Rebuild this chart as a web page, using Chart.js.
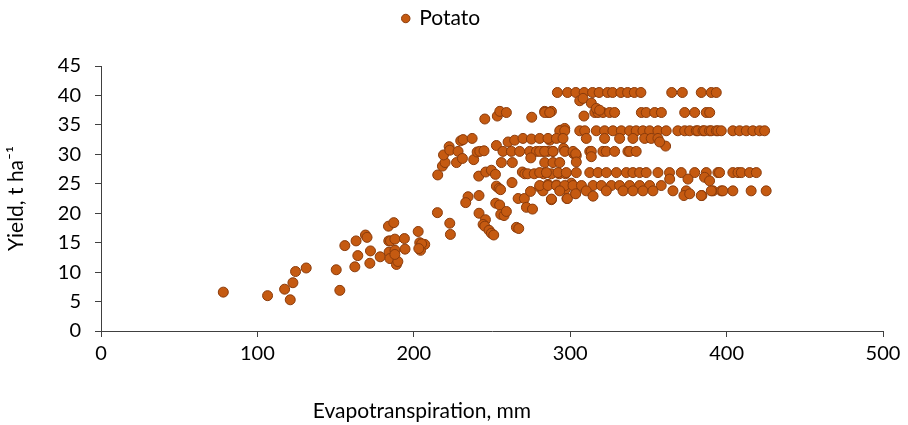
<!DOCTYPE html>
<html>
<head>
<meta charset="utf-8">
<script src="https://cdn.jsdelivr.net/npm/chart.js@4/dist/chart.umd.min.js"></script>
<style>
  body { margin: 0; background: #fff; }
  #wrap { width: 908px; height: 425px; }
</style>
</head>
<body>
<div id="wrap"><canvas id="potatoChart"></canvas></div>
<script>
// Potato yield vs evapotranspiration

const seriesName = 'Potato';
const xTitle = 'Evapotranspiration, mm';
const yTitle = 'Yield, t ha\u207B\u00B9';

// evapotranspiration, mm
const etValues = [
  78.2, 106.5, 121, 117.4, 122.7, 124.4, 131.2, 150.4, 152.7, 155.9,
  163.1, 164.2, 162.3, 169.1, 170.1, 172.3, 171.9, 178.5, 183.8, 187.2,
  184, 185.1, 187.9, 184.2, 188, 184.7, 188.9, 189.8, 187.9, 194,
  194.4, 202.8, 203.8, 207, 204.3, 205, 203.2, 215.3, 215.1, 223,
  223.4, 218.3, 220, 227.3, 234.7, 233.2, 241.7, 241.5, 246, 249.6,
  252.2, 241.7, 245.8, 244.3, 245.4, 248.1, 249.6, 251.1, 252.8, 254.5,
  255.5, 252.4, 254.9, 255.6, 257.7, 259.2, 256, 263, 262.8, 265.6,
  267.1, 266.7, 270.7, 272, 275.9, 269.4, 271, 274.6, 280.5, 285.8,
  282.6, 288, 291.2, 296.9, 297.9, 300.7, 303.5, 219, 222.6, 223,
  228.3, 231.1, 230, 231.5, 237.3, 238.3, 240.5, 242.2, 244.9, 245.4,
  253.4, 255, 259.2, 252.8, 260.3, 264.5, 269.8, 275.2, 257, 262.4,
  267.7, 274.1, 278.4, 282.6, 285.8, 289, 274.8, 275.4, 283.7, 285.8,
  288, 293.9, 296.5, 286.9, 295.8, 302.2, 303.9, 283.7, 289, 293.3,
  272.8, 277, 283, 288, 293, 297,
  // 40.5 row
  291.8, 298.3, 303.6, 308.9, 314.3, 318.5, 323.9, 327.1, 332.4, 336.7,
  341, 345.2, 364.9, 371.7, 383.8, 390.2, 393.4, 306.1, 308.2, 313.5,
  // 37 row
  308.8, 283.7, 286.9, 315.7, 317.8, 321, 325.2, 328.4, 345.5, 348.6,
  354, 358.3, 373.2, 379.6, 387, 389.2, 316.7, 318.8,
  // 34 row
  293.3, 296.5, 306.1, 309.3, 316.7, 322, 327.3, 332.7, 338, 342.2,
  346.5, 350.8, 356.1, 361.4, 368.8, 373.2, 376.4, 380.6, 381.6, 384.9,
  385.9, 389.1, 390.2, 393.4, 394.4, 396.6, 404, 408.3, 412.6, 416.8,
  421.1, 424.3,
  // 32.5 row
  280.5, 285.8, 291.2, 295.4, 310.3, 322, 331.6, 340.1, 347.6, 351.8,
  356.1, 361, 357.2,
  // 30.5 row
  280.5, 283.7, 289, 296.5, 301.8, 312.5, 313.5, 320.9, 323.1, 328.4,
  336.9, 338, 342.2, 313.5, 303.5, 303.9,
  // 27 row
  280.5, 284.8, 292.2, 297.5, 303.9, 312.5, 317.8, 323.1, 329.5, 335.9,
  340.1, 344.4, 348.6, 356.1, 363.5, 371, 379.6, 387, 363.6, 375.3,
  394.4, 395.5, 404, 407.3, 409.4, 414.7, 419, 385.9, 389.1,
  // 24.5 row
  280.5, 285.8, 291.2, 296.5, 301.8, 307.2, 314.6, 319.9, 326.3, 331.6,
  338, 344.4, 350.8, 358.2,
  // 23.8 row
  293.3, 310.3, 323.1, 333.8, 340.1, 346.5, 352.9, 365.7, 374.2, 391.3,
  288, 298.2, 303.5, 314.6, 372.7, 384.2, 390.2, 396.6, 397.6, 404,
  415.7, 425.3, 383.8, 376.4
];

// yield, t/ha
const yieldValues = [
  6.6, 6.0, 5.3, 7.1, 8.2, 10.1, 10.7, 10.4, 6.9, 14.5,
  15.3, 12.8, 10.9, 16.3, 15.9, 13.6, 11.5, 12.6, 17.8, 18.4,
  15.3, 15.3, 15.6, 13.4, 13.7, 12.3, 11.3, 11.8, 13.0, 15.7,
  13.9, 16.9, 15.0, 14.7, 13.7, 14.8, 14.0, 26.5, 20.1, 18.3,
  16.4, 28.0, 28.6, 28.6, 22.8, 21.8, 23.0, 26.3, 27.0, 27.3,
  26.6, 20.0, 18.9, 18.1, 17.8, 17.1, 16.6, 16.3, 24.6, 24.2,
  24.0, 21.7, 21.4, 19.8, 19.6, 20.3, 28.6, 28.6, 25.2, 17.6,
  17.4, 22.5, 22.5, 21.0, 20.7, 27.0, 26.7, 23.7, 24.4, 24.9,
  23.8, 22.3, 24.8, 24.1, 22.5, 25.1, 23.4, 29.9, 31.3, 30.7,
  30.5, 29.3, 32.3, 32.5, 32.7, 29.1, 30.4, 30.5, 30.6, 36.0,
  36.5, 37.3, 37.1, 31.5, 32.1, 32.4, 32.7, 32.6, 30.5, 30.5,
  30.5, 30.5, 30.5, 30.5, 30.5, 30.5, 29.4, 36.3, 37.3, 37.1,
  37.3, 34.1, 34.4, 32.4, 31.0, 30.1, 29.8, 28.6, 28.6, 28.6,
  26.7, 26.7, 26.7, 26.7, 26.7, 26.7,
  40.5, 40.5, 40.5, 40.5, 40.5, 40.5, 40.5, 40.5, 40.5, 40.5,
  40.5, 40.5, 40.5, 40.5, 40.5, 40.5, 40.5, 39.1, 39.5, 38.7,
  36.5, 37.1, 37.1, 37.1, 37.1, 37.1, 37.1, 37.1, 37.1, 37.1,
  37.1, 37.1, 37.1, 37.1, 37.1, 37.1, 37.8, 37.5,
  34.0, 34.0, 34.0, 34.0, 34.0, 34.0, 34.0, 34.0, 34.0, 34.0,
  34.0, 34.0, 34.0, 34.0, 34.0, 34.0, 34.0, 34.0, 34.0, 34.0,
  34.0, 34.0, 34.0, 34.0, 34.0, 34.0, 34.0, 34.0, 34.0, 34.0,
  34.0, 34.0,
  32.7, 32.7, 32.7, 32.7, 32.7, 32.7, 32.7, 32.7, 32.7, 32.7,
  32.7, 31.4, 32.1,
  30.5, 30.5, 30.5, 30.5, 30.5, 30.5, 30.5, 30.5, 30.5, 30.5,
  30.5, 30.5, 30.5, 29.6, 30.1, 28.7,
  26.9, 26.9, 26.9, 26.9, 26.9, 26.9, 26.9, 26.9, 26.9, 26.9,
  26.9, 26.9, 26.9, 26.9, 26.9, 26.9, 26.9, 26.9, 25.8, 25.8,
  26.9, 26.9, 26.9, 26.9, 26.9, 26.9, 26.9, 26.1, 25.5,
  24.7, 24.7, 24.7, 24.7, 24.7, 24.7, 24.7, 24.7, 24.7, 24.7,
  24.7, 24.7, 24.7, 24.7,
  23.8, 23.8, 23.8, 23.8, 23.8, 23.8, 23.8, 23.8, 23.8, 23.8,
  22.4, 22.5, 23.3, 22.9, 23.0, 23.0, 23.8, 23.8, 23.8, 23.8,
  23.8, 23.8, 23.0, 23.3
];

const xTicks = [0, 100, 200, 300, 400, 500];
const yTicks = [0, 5, 10, 15, 20, 25, 30, 35, 40, 45];

const points = etValues.map((x, i) => ({ x: x, y: yieldValues[i] }));

const fontName = 'Lato, "Open Sans", sans-serif';
const axisColor = '#404040';

// x-axis title sits a bit left of centre in the original, so draw it by hand
const xTitlePlugin = {
    id: 'xTitle',
    afterInit(chart) {
        // leave more room under the legend, like the original
        const fit = chart.legend.fit;
        chart.legend.fit = function() {
            fit.call(this);
            this.height += 27;
        };
    },
    afterDraw(chart) {
        const ctx = chart.ctx;
        ctx.save();
        ctx.font = '21px ' + fontName;
        ctx.fillStyle = '#000';
        ctx.textAlign = 'center';
        ctx.textBaseline = 'middle';
        ctx.fillText(xTitle, 422, 411);
        ctx.restore();
    }
};

new Chart(document.getElementById('potatoChart'), {
    type: 'scatter',
    data: {
        datasets: [{
            label: seriesName,
            data: points,
            backgroundColor: '#C55A11',
            borderColor: '#8A3B0B',
            borderWidth: 1,
            pointRadius: 5,
            pointHoverRadius: 5
        }]
    },
    options: {
        responsive: true,
        maintainAspectRatio: false,
        animation: false,
        layout: { padding: { left: 0, right: 25, top: 0, bottom: 0 } },
        plugins: {
            legend: {
                position: 'top',
                labels: {
                    usePointStyle: true,
                    pointStyle: 'circle',
                    boxWidth: 6,
                    boxHeight: 6,
                    color: '#000',
                    font: { family: fontName, size: 21 },
                    padding: 8
                }
            },
            tooltip: { enabled: false }
        },
        scales: {
            x: {
                type: 'linear',
                min: 0,
                max: 500,
                afterBuildTicks: (s) => { s.ticks = xTicks.map(v => ({ value: v })); },
                afterFit: (s) => { s.height = 94; },
                grid: {
                    display: true,
                    drawOnChartArea: false,
                    drawTicks: true,
                    tickLength: 6,
                    color: axisColor
                },
                border: { color: axisColor, width: 1 },
                ticks: {
                    color: '#000',
                    padding: 5,
                    font: { family: fontName, size: 20 }
                }
            },
            y: {
                type: 'linear',
                min: 0,
                max: 45,
                afterBuildTicks: (s) => { s.ticks = yTicks.map(v => ({ value: v })); },
                afterFit: (s) => { s.width = 101; },
                grid: {
                    display: true,
                    drawOnChartArea: false,
                    drawTicks: true,
                    tickLength: 6,
                    color: axisColor
                },
                border: { color: axisColor, width: 1 },
                ticks: {
                    color: '#000',
                    padding: 14,
                    font: { family: fontName, size: 20 }
                },
                title: {
                    display: true,
                    text: yTitle,
                    color: '#000',
                    font: { family: fontName, size: 21 },
                    padding: { top: 4, bottom: 4 }
                }
            }
        }
    },
    plugins: [xTitlePlugin]
});
</script>
</body>
</html>
